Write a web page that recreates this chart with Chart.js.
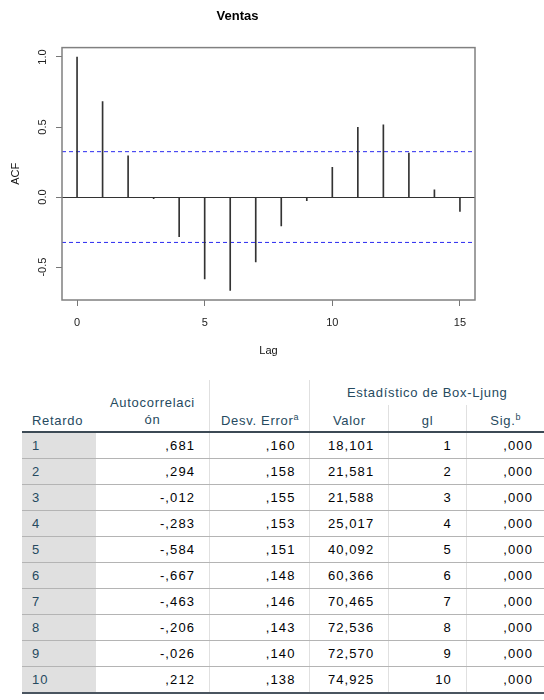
<!DOCTYPE html>
<html>
<head>
<meta charset="utf-8">
<script src="https://cdn.jsdelivr.net/npm/chart.js@4/dist/chart.umd.min.js"></script>
<style>
  html, body { margin: 0; padding: 0; background: #fff; }
  body { width: 544px; height: 700px; position: relative; overflow: hidden; font-family: "Liberation Sans", Arial, sans-serif; }
  #chartBox { position: absolute; left: 0; top: 0; width: 544px; height: 365px; }
  #tblBox { position: absolute; left: 22px; top: 380px; }
  table { border-collapse: collapse; table-layout: fixed; font-size: 13px; }
  th { font-weight: normal; color: #264a60; letter-spacing: 0.7px; vertical-align: bottom; padding: 0 0 3px 0; text-align: center; line-height: 15px; }
  th sup { font-size: 9px; vertical-align: 5px; line-height: 0; letter-spacing: 0; }
  th.lab { text-align: left; padding-left: 10px; }
  th.auto { line-height: 17px; border-right: 1px solid #e0e0e0; }
  th.err { border-right: 1px solid #e0e0e0; }
  th.grp { vertical-align: middle; padding: 0; }
  th.v1, th.v2 { border-right: 1px solid #e0e0e0; }
  th.bot, tr.h2 th { border-bottom: 2px solid #3c4a55; }
  td { height: 25px; padding: 0 14px 0 0; text-align: right; color: #010205; letter-spacing: 1.1px; border-bottom: 1px solid #b4b4b4; border-right: 1px solid #e0e0e0; white-space: nowrap; }
  td.lab { background: #e0e0e0; color: #264a60; text-align: left; padding-left: 10px; border-right: none; }
  td.last { border-right: none; padding-right: 11px; }
  tr.end td { border-bottom: 2px solid #4a5560; }
</style>
</head>
<body>
<div id="chartBox"><canvas id="c" width="544" height="365"></canvas></div>
<div id="tblBox"><table id="t">
  <colgroup><col style="width:74px"><col style="width:114px"><col style="width:101px"><col style="width:79px"><col style="width:78px"><col style="width:78px"></colgroup>
  <thead>
    <tr style="height:25px"><th rowspan="2" class="lab bot">Retardo</th><th rowspan="2" class="auto bot">Autocorrelaci<br>ón</th><th rowspan="2" class="err bot">Desv. Error<sup>a</sup></th><th colspan="3" class="grp">Estadístico de Box-Ljung</th></tr>
    <tr class="h2" style="height:27px"><th class="v1">Valor</th><th class="v2">gl</th><th>Sig.<sup>b</sup></th></tr>
  </thead>
  <tbody id="tb"></tbody>
</table></div>
<script>
// ---- Chart data ----
const lags = [0, 1, 2, 3, 4, 5, 6, 7, 8, 9, 10, 11, 12, 13, 14, 15];
const acfValues = [1.0, 0.681, 0.294, -0.012, -0.283, -0.584, -0.667, -0.463, -0.206, -0.026, 0.212, 0.497, 0.516, 0.314, 0.052, -0.103];
const confLimit = 0.324;
const xTicks = [0, 5, 10, 15];
const yTicks = [-0.5, 0.0, 0.5, 1.0];
const xRange = [-0.59, 15.59];
const yRange = [-0.735, 1.067];

// ---- Table data ----
const tableLags = [1, 2, 3, 4, 5, 6, 7, 8, 9, 10];
const autocorr = [",681", ",294", "-,012", "-,283", "-,584", "-,667", "-,463", "-,206", "-,026", ",212"];
const stdError = [",160", ",158", ",155", ",153", ",151", ",148", ",146", ",143", ",140", ",138"];
const boxValue = ["18,101", "21,581", "21,588", "25,017", "40,092", "60,366", "70,465", "72,536", "72,570", "74,925"];
const glValues = [1, 2, 3, 4, 5, 6, 7, 8, 9, 10];
const sigValues = [",000", ",000", ",000", ",000", ",000", ",000", ",000", ",000", ",000", ",000"];

const tb = document.getElementById('tb');
tableLags.forEach((lag, i) => {
  const tr = document.createElement('tr');
  if (i === tableLags.length - 1) tr.className = 'end';
  tr.innerHTML = '<td class="lab">' + lag + '</td><td>' + autocorr[i] + '</td><td>' + stdError[i] +
    '</td><td>' + boxValue[i] + '</td><td>' + glValues[i] + '</td><td class="last">' + sigValues[i] + '</td>';
  tb.appendChild(tr);
});

const FONT = '"Liberation Sans", Arial, sans-serif';

const framePlugin = {
  id: 'frame',
  afterDraw(chart) {
    const { ctx, chartArea: a, scales } = chart;
    ctx.save();
    ctx.strokeStyle = '#808080';
    ctx.lineWidth = 1.5;
    ctx.strokeRect(a.left, a.top, a.right - a.left, a.bottom - a.top);
    // rotated y tick labels (R style)
    ctx.fillStyle = '#222';
    ctx.font = '11px ' + FONT;
    ctx.textAlign = 'center';
    ctx.textBaseline = 'middle';
    yTicks.forEach(v => {
      const py = scales.y.getPixelForValue(v);
      ctx.save();
      ctx.translate(43, py);
      ctx.rotate(-Math.PI / 2);
      ctx.fillText(v.toFixed(1), 0, 0);
      ctx.restore();
    });
    ctx.restore();
  }
};

new Chart(document.getElementById('c'), {
  type: 'bar',
  data: {
    datasets: [
      {
        type: 'bar',
        data: lags.map((l, i) => ({ x: l, y: acfValues[i] })),
        backgroundColor: '#333',
        borderWidth: 0,
        barThickness: 1,
        grouped: false
      },
      {
        type: 'line',
        data: xRange.map(x => ({ x: x, y: confLimit })),
        borderColor: '#2b2bf0',
        borderWidth: 1,
        borderDash: [4, 3],
        pointRadius: 0,
        fill: false
      },
      {
        type: 'line',
        data: xRange.map(x => ({ x: x, y: -confLimit })),
        borderColor: '#2b2bf0',
        borderWidth: 1,
        borderDash: [4, 3],
        pointRadius: 0,
        fill: false
      }
    ]
  },
  options: {
    responsive: false,
    animation: false,
    devicePixelRatio: 1,
    layout: { padding: { left: 0, right: 69, top: 0, bottom: 0 } },
    plugins: {
      legend: { display: false },
      tooltip: { enabled: false },
      title: {
        display: true,
        text: 'Ventas',
        color: '#000',
        font: { family: FONT, size: 13, weight: 'bold' },
        padding: { top: 9, bottom: 23 }
      }
    },
    scales: {
      x: {
        type: 'linear',
        min: xRange[0],
        max: xRange[1],
        offset: false,
        afterBuildTicks: s => { s.ticks = xTicks.map(v => ({ value: v })); },
        afterFit: s => { s.height = 65; },
        grid: { display: true, drawOnChartArea: false, drawTicks: true, tickLength: 6, tickColor: '#777', offset: false },
        border: { display: false },
        ticks: { color: '#222', font: { family: FONT, size: 11 }, padding: 10, maxRotation: 0, callback: v => String(v) },
        title: { display: true, text: 'Lag', color: '#111', font: { family: FONT, size: 11 }, padding: { top: 0, bottom: 7 } }
      },
      y: {
        type: 'linear',
        min: yRange[0],
        max: yRange[1],
        afterBuildTicks: s => { s.ticks = yTicks.map(v => ({ value: v })); },
        afterFit: s => { s.width = 62; },
        grid: {
          display: true,
          drawTicks: true,
          tickLength: 6,
          tickColor: '#777',
          color: c => (c.tick && c.tick.value === 0 ? '#333' : 'rgba(0,0,0,0)'),
          lineWidth: 1
        },
        border: { display: false },
        ticks: { display: false },
        title: { display: true, text: 'ACF', color: '#111', font: { family: FONT, size: 11 }, padding: { top: 9, bottom: 0 } }
      }
    }
  },
  plugins: [framePlugin]
});
</script>
</body>
</html>
